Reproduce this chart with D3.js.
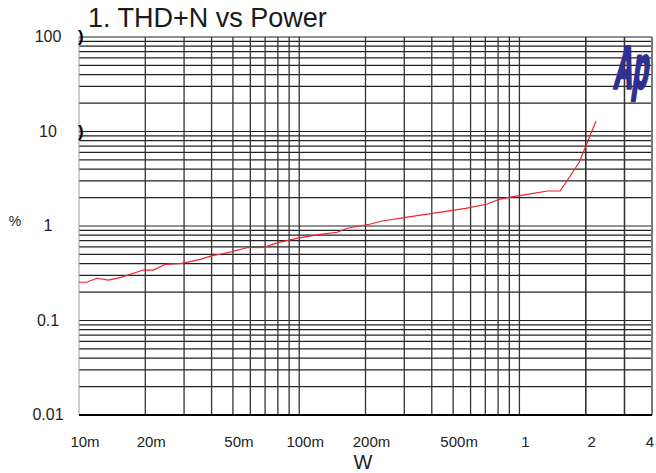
<!DOCTYPE html>
<html><head><meta charset="utf-8">
<script src="https://cdn.jsdelivr.net/npm/d3@7"></script>
<style>
html,body{margin:0;padding:0;background:#fff;}
svg{display:block;}
text{font-family:Arial,"Liberation Sans",sans-serif;}
</style></head>
<body>
<script>
const title = "1. THD+N vs Power";
const xLabel = "W";
const yLabel = "%";
const xTickValues = [0.01, 0.02, 0.05, 0.1, 0.2, 0.5, 1, 2, 4];
const xTickLabels = ["10m", "20m", "50m", "100m", "200m", "500m", "1", "2", "4"];
const yTickValues = [0.01, 0.1, 1, 10, 100];
const yTickLabels = ["0.01", "0.1", "1", "10", "100"];
const powerW = [0.01, 0.01084, 0.01204, 0.01359, 0.01537, 0.01961, 0.02178, 0.02462, 0.02933, 0.03552,
  0.04015, 0.0438, 0.04951, 0.05794, 0.06894, 0.08067, 0.1013, 0.1249, 0.1487, 0.1652,
  0.2108, 0.2384, 0.3042, 0.4023, 0.5704, 0.716, 0.8086, 0.8979, 1.069, 1.342,
  1.532, 1.869, 2.026, 2.227];
const thdn = [0.254, 0.254, 0.28, 0.268, 0.284, 0.342, 0.342, 0.393, 0.403, 0.444,
  0.485, 0.502, 0.535, 0.589, 0.595, 0.672, 0.752, 0.817, 0.858, 0.946,
  1.05, 1.129, 1.236, 1.363, 1.539, 1.709, 1.917, 2.012, 2.144, 2.346,
  2.346, 4.72, 7.5, 12.9];

const W = 656, H = 473;
const m = {left: 79, right: 4, top: 37, bottom: 58};
const svg = d3.select("body").append("svg").attr("width", W).attr("height", H);

const x = d3.scaleLog().domain([0.01, 4]).range([m.left, W - m.right]);
const y = d3.scaleLog().domain([0.01, 100]).range([H - m.bottom, m.top]);

// grid values
const xGrid = [];
for (let d = 0.01; d <= 1; d *= 10) for (let k = 1; k <= 9; k++) { const v = +(k * d).toPrecision(3); if (v <= 4) xGrid.push(v); }
[2, 3, 4].forEach(v => xGrid.push(v));
const yGrid = [];
for (let d = 0.01; d <= 10; d *= 10) for (let k = 1; k <= 9; k++) yGrid.push(+(k * d).toPrecision(3));
yGrid.push(100);

const g = svg.append("g");
g.selectAll("line.h").data(yGrid).enter().append("line")
  .attr("x1", m.left).attr("x2", W - m.right)
  .attr("y1", d => y(d)).attr("y2", d => y(d))
  .attr("stroke", "#222").attr("stroke-width", 1.2);
g.selectAll("line.v").data(xGrid.filter(v => v > 0.01 && v < 4)).enter().append("line")
  .attr("y1", m.top).attr("y2", H - m.bottom)
  .attr("x1", d => x(d)).attr("x2", d => x(d))
  .attr("stroke", "#333").attr("stroke-width", 1.3);
// frame
g.append("line").attr("x1", m.left).attr("x2", m.left).attr("y1", m.top).attr("y2", H - m.bottom).attr("stroke", "#999").attr("stroke-width", 1);
g.append("line").attr("x1", W - m.right).attr("x2", W - m.right).attr("y1", m.top).attr("y2", H - m.bottom).attr("stroke", "#777").attr("stroke-width", 2);
g.append("line").attr("x1", m.left).attr("x2", W - m.right).attr("y1", H - m.bottom).attr("y2", H - m.bottom).attr("stroke", "#000").attr("stroke-width", 2.2);

// brackets at left edge
[100, 10].forEach(v => {
  svg.append("text").attr("x", m.left - 1).attr("y", y(v) + 5).attr("font-size", 17).attr("font-weight", "bold").text(")");
});

// Ap logo
svg.append("text").attr("transform", `translate(613,88) skewX(-8) scale(0.43,1)`)
  .attr("font-size", 60).attr("font-weight", "bold").attr("fill", "#2e3192")
  .attr("stroke", "#2e3192").attr("stroke-width", 3.5).attr("stroke-linejoin", "round").text("Ap");

// curve
const data = powerW.map((p, i) => ({p, t: thdn[i]}));
svg.append("path").datum(data)
  .attr("fill", "none").attr("stroke", "#f0222a").attr("stroke-width", 1.2)
  .attr("d", d3.line().x(d => x(d.p)).y(d => y(d.t)));

// axes labels
svg.selectAll("text.xt").data(xTickValues).enter().append("text")
  .attr("x", d => Math.min(x(d) + 6, W - 6)).attr("y", 447).attr("text-anchor", "middle")
  .attr("font-size", 15).attr("fill", "#222").text((d, i) => xTickLabels[i]);
svg.selectAll("text.yt").data(yTickValues).enter().append("text")
  .attr("x", 48).attr("y", d => y(d) + 5).attr("text-anchor", "middle")
  .attr("font-size", 16).attr("fill", "#222").text((d, i) => yTickLabels[i]);

svg.append("text").attr("x", 88).attr("y", 27).attr("font-size", 27).attr("fill", "#1a1a1a").text(title);
svg.append("text").attr("x", 363).attr("y", 469).attr("text-anchor", "middle").attr("font-size", 20).attr("fill", "#222").text(xLabel);
svg.append("text").attr("x", 15).attr("y", 226).attr("text-anchor", "middle").attr("font-size", 14).attr("fill", "#222").text(yLabel);
</script>
</body></html>
